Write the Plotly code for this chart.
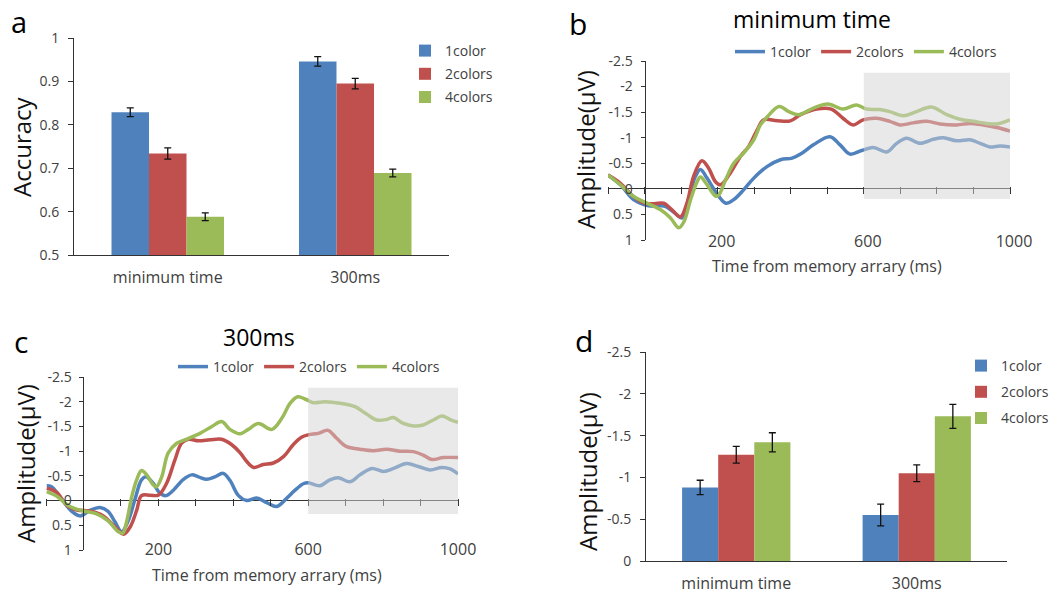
import plotly.graph_objects as go

W, H = 1051, 602

# ---------------- data ----------------
conditions = ["1color", "2colors", "4colors"]
colors = ["#4F81BD", "#C0504D", "#9BBB59"]
bar_categories = ["minimum time", "300ms"]

# panel a: accuracy
acc_1color = [0.829, 0.946]
acc_2colors = [0.734, 0.895]
acc_4colors = [0.588, 0.689]
acc_err_1color = [0.010, 0.011]
acc_err_2colors = [0.013, 0.012]
acc_err_4colors = [0.009, 0.009]

# panel d: amplitude
amp_1color = [-0.88, -0.55]
amp_2colors = [-1.27, -1.05]
amp_4colors = [-1.42, -1.73]
amp_err_1color = [0.086, 0.13]
amp_err_2colors = [0.10, 0.10]
amp_err_4colors = [0.114, 0.144]

# panel b: ERP, minimum time
b_t_1color = [-100, -66, -30, 0, 24, 56, 84, 102, 120, 139, 153, 171, 194, 222, 244, 271, 299, 336, 372, 404, 427,
              462, 507, 535, 562, 594, 626, 663, 690, 717, 754, 790, 818, 854, 891, 918, 945, 973, 1000]
b_v_1color = [-0.27, -0.08, 0.21, 0.31, 0.34, 0.34, 0.48, 0.57, 0.21, -0.24, -0.38, -0.21, 0.05, 0.28, 0.21, 0.02,
              -0.21, -0.44, -0.57, -0.6, -0.68, -0.86, -1.02, -0.86, -0.68, -0.75, -0.81, -0.72, -0.89, -0.99, -0.89,
              -0.97, -1.0, -0.94, -0.96, -0.89, -0.82, -0.84, -0.82]
b_t_2colors = [-100, -66, -30, 0, 27, 52, 75, 98, 116, 134, 157, 175, 194, 208, 231, 262, 285, 308, 326, 363, 399,
               427, 471, 511, 543, 571, 598, 635, 671, 699, 735, 772, 808, 854, 891, 927, 964, 1000]
b_v_2colors = [-0.27, -0.11, 0.15, 0.28, 0.29, 0.28, 0.41, 0.55, 0.28, -0.24, -0.55, -0.41, -0.14, -0.08, -0.27,
               -0.63, -0.83, -1.15, -1.35, -1.33, -1.33, -1.45, -1.56, -1.56, -1.38, -1.25, -1.35, -1.38, -1.32,
               -1.25, -1.29, -1.32, -1.27, -1.25, -1.28, -1.25, -1.2, -1.13]
b_t_4colors = [-100, -66, -30, 7, 44, 71, 94, 108, 126, 144, 153, 171, 194, 203, 222, 244, 271, 299, 317, 336, 368,
               395, 422, 462, 502, 543, 580, 607, 644, 671, 708, 744, 785, 827, 863, 900, 936, 964, 1000]
b_v_4colors = [-0.27, -0.08, 0.15, 0.28, 0.41, 0.57, 0.76, 0.64, 0.21, -0.14, -0.23, -0.08, 0.14, 0.12, -0.18, -0.5,
               -0.7, -0.96, -1.25, -1.41, -1.61, -1.51, -1.45, -1.58, -1.66, -1.56, -1.64, -1.56, -1.55, -1.51,
               -1.43, -1.51, -1.6, -1.45, -1.36, -1.32, -1.28, -1.27, -1.35]

# panel c: ERP, 300ms
c_t_1color = [-98, -85, -63, -31, -9, 17, 44, 66, 84, 102, 120, 137, 155, 167, 186, 204, 220, 240, 267, 289, 307,
              329, 351, 373, 391, 414, 436, 462, 489, 516, 543, 565, 587, 600, 631, 658, 680, 712, 738, 770, 801,
              828, 863, 894, 925, 957, 979, 1000]
c_v_1color = [-0.3, -0.28, -0.08, 0.22, 0.31, 0.2, 0.14, 0.22, 0.43, 0.63, 0.4, -0.01, -0.42, -0.48, -0.35, -0.15,
              -0.1, -0.21, -0.43, -0.52, -0.48, -0.43, -0.48, -0.55, -0.41, -0.1, 0.0, -0.05, 0.04, 0.12, -0.05,
              -0.21, -0.34, -0.36, -0.3, -0.42, -0.46, -0.38, -0.52, -0.65, -0.59, -0.65, -0.75, -0.69, -0.62,
              -0.67, -0.64, -0.54]
c_t_2colors = [-98, -72, -45, -18, 17, 53, 84, 107, 125, 142, 155, 178, 200, 222, 244, 262, 280, 307, 338, 369,
               396, 418, 436, 454, 480, 507, 534, 560, 582, 600, 627, 653, 676, 703, 738, 774, 809, 845, 881, 907,
               930, 961, 1000]
c_v_2colors = [-0.25, -0.17, 0.09, 0.19, 0.21, 0.31, 0.53, 0.68, 0.53, 0.2, -0.1, -0.11, -0.11, -0.35, -0.82,
               -1.16, -1.24, -1.21, -1.23, -1.24, -1.13, -0.97, -0.79, -0.67, -0.73, -0.76, -0.89, -1.13, -1.28,
               -1.33, -1.36, -1.42, -1.26, -1.09, -1.04, -1.01, -1.04, -1.0, -0.99, -0.92, -0.83, -0.87, -0.87]
c_t_4colors = [-98, -72, -36, 0, 35, 66, 93, 105, 116, 129, 142, 155, 169, 186, 195, 209, 226, 249, 275, 311, 343,
               369, 391, 418, 440, 467, 503, 530, 552, 572, 593, 614, 645, 685, 725, 756, 783, 809, 827, 854, 881,
               907, 934, 957, 979, 1000]
c_v_4colors = [-0.18, -0.09, 0.12, 0.21, 0.27, 0.41, 0.63, 0.66, 0.4, -0.08, -0.42, -0.61, -0.52, -0.32, -0.28,
               -0.48, -0.96, -1.16, -1.24, -1.36, -1.5, -1.6, -1.44, -1.35, -1.44, -1.56, -1.44, -1.67, -1.97, -2.1,
               -2.05, -1.98, -2.0, -1.97, -1.9, -1.75, -1.63, -1.64, -1.68, -1.56, -1.51, -1.53, -1.63, -1.71,
               -1.64, -1.58]

# tick labels
erp_tickvals = [-2.5, -2, -1.5, -1, -0.5, 0, 0.5, 1]
erp_ticktext = ["-2.5", "-2", "-1.5", "-1", "-0.5", "0", "0.5", "1"]
erp_xtickvals = [200, 600, 1000]
erp_xticktext = ["200", "600", "1000"]
amp_tickvals = [-2.5, -2, -1.5, -1, -0.5, 0]
amp_ticktext = ["-2.5", "-2", "-1.5", "-1", "-0.5", "0"]
window_start, window_end = 600, 1005
window_b = [0.2, -2.27]
window_c = [0.27, -2.28]

# ---------------- helpers ----------------
def fx(px):
    return px / W

def fy(py):
    return 1 - py / H

FONT = "Open Sans"
TXT = "#404040"
AX = "#333333"

fig = go.Figure()

acc_vals = [acc_1color, acc_2colors, acc_4colors]
acc_errs = [acc_err_1color, acc_err_2colors, acc_err_4colors]
amp_vals = [amp_1color, amp_2colors, amp_4colors]
amp_errs = [amp_err_1color, amp_err_2colors, amp_err_4colors]

for i, name in enumerate(conditions):
    fig.add_trace(go.Bar(x=bar_categories, y=acc_vals[i], name=name, marker_color=colors[i],
                         marker_line_width=0,
                         error_y=dict(type="data", array=acc_errs[i], color="#111", thickness=1.3, width=3.5),
                         xaxis="x", yaxis="y", legend="legend", legendgroup="a%d" % i))

b_series = [(b_t_1color, b_v_1color), (b_t_2colors, b_v_2colors), (b_t_4colors, b_v_4colors)]
c_series = [(c_t_1color, c_v_1color), (c_t_2colors, c_v_2colors), (c_t_4colors, c_v_4colors)]
for i, name in enumerate(conditions):
    t, v = b_series[i]
    fig.add_trace(go.Scatter(x=t, y=v, mode="lines", name=name,
                             line=dict(color=colors[i], width=3.5, shape="spline", smoothing=1.0),
                             xaxis="x2", yaxis="y2", legend="legend2"))
for i, name in enumerate(conditions):
    t, v = c_series[i]
    fig.add_trace(go.Scatter(x=t, y=v, mode="lines", name=name,
                             line=dict(color=colors[i], width=3.5, shape="spline", smoothing=1.0),
                             xaxis="x3", yaxis="y3", legend="legend3"))

for i, name in enumerate(conditions):
    fig.add_trace(go.Bar(x=bar_categories, y=amp_vals[i], name=name, marker_color=colors[i],
                         marker_line_width=0,
                         error_y=dict(type="data", array=amp_errs[i], color="#111", thickness=1.3, width=3.5),
                         xaxis="x4", yaxis="y4", legend="legend4", legendgroup="d%d" % i))

# empty helper traces so overlay tick axes are drawn
fig.add_trace(go.Scatter(x=[], y=[], xaxis="x5", yaxis="y2", showlegend=False, hoverinfo="skip"))
fig.add_trace(go.Scatter(x=[], y=[], xaxis="x6", yaxis="y3", showlegend=False, hoverinfo="skip"))

# ---------------- geometry ----------------
a_x = [fx(74), fx(449)]
a_y = [fy(255), fy(38)]
b_x = [fx(608), fx(1010)]
b_y = [fy(240), fy(61)]
c_x = [fx(46), fx(458)]
c_y = [fy(550), fy(377)]
d_x = [fx(646), fx(1007)]
d_y = [fy(561), fy(352)]

def zero_pos(dom):
    # y-range is [1, -2.5] (bottom to top); 0 lies 1/3.5 of the way up
    return dom[0] + (1 - 0) / 3.5 * (dom[1] - dom[0])

def yaxis_pos(xdom):
    return xdom[0] + 100 / 1100 * (xdom[1] - xdom[0])

tickfont = dict(family=FONT, size=14, color=TXT)
catfont = dict(family=FONT, size=16, color=TXT)

layout = dict(
    width=W, height=H, margin=dict(l=0, r=0, t=0, b=0, autoexpand=False),
    paper_bgcolor="white", plot_bgcolor="rgba(0,0,0,0)",
    font=dict(family=FONT, color=TXT),
    barmode="group", bargap=0.4, bargroupgap=0,
    # panel a
    xaxis=dict(domain=a_x, anchor="y", showline=True, linecolor=AX, linewidth=1, ticks="",
               tickfont=catfont, ticklabelstandoff=8, showgrid=False, zeroline=False),
    yaxis=dict(domain=a_y, anchor="x", range=[0.5, 1], dtick=0.1, showline=True, linecolor=AX, linewidth=1,
               ticks="outside", ticklen=5, tickcolor=AX, tickfont=tickfont, ticklabelstandoff=6,
               showgrid=False, zeroline=False),
    # panel b
    xaxis2=dict(domain=b_x, anchor="free", position=fy(230), range=[-100, 1000], showline=False, ticks="",
                tickvals=erp_xtickvals, ticktext=erp_xticktext, tickfont=catfont, ticklabelshift=4,
                showgrid=False, zeroline=False),
    yaxis2=dict(domain=b_y, anchor="free", position=yaxis_pos(b_x), range=[1, -2.5], showline=True,
                linecolor=AX, linewidth=1, ticks="outside", ticklen=4, tickcolor=AX,
                tickvals=erp_tickvals, ticktext=erp_ticktext, tickfont=tickfont, ticklabelstandoff=5,
                showgrid=False, zeroline=True, zerolinecolor=AX, zerolinewidth=1),
    xaxis5=dict(domain=b_x, anchor="free", overlaying="x2", position=zero_pos(b_y) + 3 / H,
                range=[-100, 1000], tick0=-100, dtick=100, ticks="outside", ticklen=7, tickcolor=AX,
                showticklabels=False, showline=False, showgrid=False, zeroline=False),
    # panel c
    xaxis3=dict(domain=c_x, anchor="free", position=fy(538), range=[-100, 1000], showline=False, ticks="",
                tickvals=erp_xtickvals, ticktext=erp_xticktext, tickfont=catfont,
                showgrid=False, zeroline=False),
    yaxis3=dict(domain=c_y, anchor="free", position=yaxis_pos(c_x), range=[1, -2.5], showline=True,
                linecolor=AX, linewidth=1, ticks="outside", ticklen=4, tickcolor=AX,
                tickvals=erp_tickvals, ticktext=erp_ticktext, tickfont=tickfont, ticklabelstandoff=5,
                showgrid=False, zeroline=True, zerolinecolor=AX, zerolinewidth=1),
    xaxis6=dict(domain=c_x, anchor="free", overlaying="x3", position=zero_pos(c_y) + 3 / H,
                range=[-100, 1000], tick0=-100, dtick=100, ticks="outside", ticklen=7, tickcolor=AX,
                showticklabels=False, showline=False, showgrid=False, zeroline=False),
    # panel d
    xaxis4=dict(domain=d_x, anchor="y4", showline=True, linecolor=AX, linewidth=1, ticks="",
                tickfont=catfont, ticklabelstandoff=8, showgrid=False, zeroline=False),
    yaxis4=dict(domain=d_y, anchor="x4", range=[0, -2.5], showline=True, linecolor=AX, linewidth=1,
                ticks="outside", ticklen=5, tickcolor=AX, tickvals=amp_tickvals, ticktext=amp_ticktext,
                tickfont=tickfont, ticklabelstandoff=6, showgrid=False, zeroline=False),
    legend=dict(x=fx(405), y=fy(35), xanchor="left", yanchor="top", font=dict(family=FONT, size=14, color=TXT),
                tracegroupgap=2, bgcolor="rgba(0,0,0,0)"),
    legend2=dict(orientation="h", x=fx(730), y=fy(52), xanchor="left", yanchor="middle",
                 font=dict(family=FONT, size=14, color=TXT), bgcolor="rgba(0,0,0,0)"),
    legend3=dict(orientation="h", x=fx(173), y=fy(367), xanchor="left", yanchor="middle",
                 font=dict(family=FONT, size=14, color=TXT), bgcolor="rgba(0,0,0,0)"),
    legend4=dict(x=fx(961), y=fy(350), xanchor="left", yanchor="top", font=dict(family=FONT, size=14, color=TXT),
                 tracegroupgap=5, bgcolor="rgba(0,0,0,0)"),
    showlegend=True,
)
fig.update_layout(**layout)

# shaded analysis windows (drawn over curves, fading them)
for xr, yr, win in (("x2", "y2", window_b), ("x3", "y3", window_c)):
    fig.add_shape(type="rect", xref=xr, yref=yr, x0=window_start, x1=window_end, y0=win[0], y1=win[1],
                  fillcolor="rgba(211,211,211,0.5)", line_width=0, layer="above")

def ann(text, px, py, size, angle=0, color="#000", xanchor="center", yanchor="middle"):
    fig.add_annotation(text=text, x=fx(px), y=fy(py), xref="paper", yref="paper", showarrow=False,
                       textangle=angle, xanchor=xanchor, yanchor=yanchor,
                       font=dict(family=FONT, size=size, color=color))

# panel letters (anchored by top of text box)
ann("a", 19, 0, 29, yanchor="top")
ann("b", 578, 1, 30, yanchor="top")
ann("c", 21, 319, 30, yanchor="top")
ann("d", 584, 318, 30, yanchor="top")
# titles
ann("minimum time", 812, 19, 23)
ann("300ms", 259, 337, 23)
# axis titles
ann("Accuracy", 21, 147, 24, angle=-90, color="#111")
ann("Amplitude(μV)", 586, 150, 24, angle=-90, color="#111")
ann("Amplitude(μV)", 25, 464, 24, angle=-90, color="#111")
ann("Amplitude(μV)", 587, 472, 24, angle=-90, color="#111")
ann("Time from memory arrary (ms)", 827, 266, 16, color=TXT)
ann("Time from memory arrary (ms)", 267, 575, 16, color=TXT)

fig.write_html("out.html", config={"displayModeBar": False},
               post_script="document.body.style.margin='0';document.body.style.overflow='hidden';")
